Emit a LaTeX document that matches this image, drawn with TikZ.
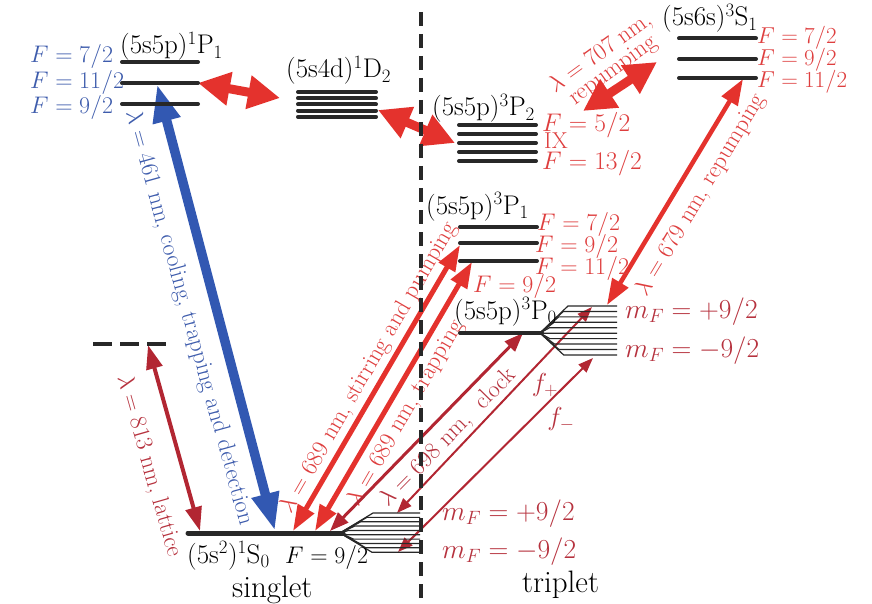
\RequirePackage{fix-cm}
\documentclass[tikz,border=0pt]{standalone}
\usetikzlibrary{arrows.meta}
\definecolor{lvcol}{RGB}{40,40,40}
\definecolor{bluA}{RGB}{50,88,178}
\definecolor{bluT}{RGB}{62,92,172}
\definecolor{redA}{RGB}{228,50,45}
\definecolor{redT}{RGB}{222,62,62}
\definecolor{redD}{RGB}{178,38,50}
\definecolor{redDT}{RGB}{182,50,62}
\begin{document}
\begin{tikzpicture}[x=1pt,y=-1pt,
  lvl/.style={draw=lvcol,line width=4pt,line cap=round},
  fanline/.style={draw=lvcol,line width=1.2pt},
  st/.style={inner sep=0pt,anchor=base west,font=\fontsize{27}{32}\selectfont,text=black},
  ml/.style={inner sep=0pt,anchor=base west,font=\fontsize{27.5}{32}\selectfont,text=redDT},
  fl/.style={inner sep=0pt,anchor=base west,font=\fontsize{24}{28}\selectfont},
  al/.style={inner sep=0pt,font=\fontsize{24}{28}\selectfont},
  bigred/.style={draw=redA,line width=9pt,{Triangle[length=32pt,width=32pt]}-{Triangle[length=32pt,width=32pt]}},
  bluearr/.style={draw=bluA,line width=9.5pt,{Triangle[length=38pt,width=26pt]}-{Triangle[length=38pt,width=26pt]}},
  midred/.style={draw=redA,line width=5pt,{Triangle[length=26pt,width=18pt]}-{Triangle[length=26pt,width=18pt]}},
  repred/.style={draw=redA,line width=4.5pt,{Triangle[length=26pt,width=18pt]}-{Triangle[length=26pt,width=18pt]}},
  clockarr/.style={draw=redD,line width=3pt,{Triangle[length=19pt,width=14pt]}-{Triangle[length=19pt,width=14pt]}},
  thinarr/.style={draw=redD,line width=2pt,{Triangle[length=15pt,width=11pt]}-{Triangle[length=15pt,width=11pt]}},
  latarr/.style={draw=redD,line width=4pt,{Triangle[length=24pt,width=16pt]}-{Triangle[length=24pt,width=16pt]}}
]
\useasboundingbox (0,0) rectangle (872,604);

% ---------- arrow end points ----------
\coordinate (bTop) at (157,84);
\coordinate (bBot) at (275,531);
\coordinate (r1a) at (198,83);
\coordinate (r1b) at (280,98);
\coordinate (r2a) at (378,110);
\coordinate (r2b) at (455,143);
\coordinate (r3a) at (583,111);
\coordinate (r3b) at (657,62);
\coordinate (r4a) at (743,79);
\coordinate (r4b) at (607,305);
\coordinate (s1a) at (293,531);
\coordinate (s1b) at (460,245);
\coordinate (s2a) at (315,531);
\coordinate (s2b) at (472,262);
\coordinate (ca) at (330,531);
\coordinate (cb) at (523,333);
\coordinate (fpa) at (397,513);
\coordinate (fpb) at (592,307);
\coordinate (fma) at (398,552);
\coordinate (fmb) at (593,358);
\coordinate (la) at (148,345);
\coordinate (lb) at (200,531);

% ---------- arrow labels ----------
\node[al,text=bluT,rotate=-74.5] (t461) at (189,318) {$\lambda=461$ nm, cooling, trapping and detection};
\node[al,text=redDT,rotate=-74] (t813) at (149,466) {$\lambda=813$ nm, lattice};
\node[al,text=redT,rotate=60] (t689a) at (369,368) {$\lambda=689$ nm, stirring and pumping};
\node[al,text=redT,rotate=60] (t689b) at (406,413) {$\lambda=689$ nm, trapping};
\node[al,text=redDT,rotate=45.5] (t698) at (448,438) {$\lambda=698$ nm,\ \ clock};
\node[al,text=redT,rotate=59] (t679) at (701,195) {$\lambda=679$ nm, repumping};
\node[al,text=redT,rotate=36,align=center] (t707) at (607,62) {$\lambda=707$ nm,\\[-7pt]repumping};
\node[al,text=redDT,font=\fontsize{26}{30}\selectfont] (tfp) at (545,385) {$f_+$};
\node[al,text=redDT,font=\fontsize{26}{30}\selectfont] (tfm) at (561,419) {$f_-$};

% ---------- arrows ----------
\draw[bluearr] (bTop) -- (bBot);
\draw[bigred] (r1a) -- (r1b);
\draw[bigred] (r2a) -- (r2b);
\draw[bigred] (r3a) -- (r3b);
\draw[repred] (r4a) -- (r4b);
\draw[midred] (s1a) -- (s1b);
\draw[midred] (s2a) -- (s2b);
\draw[clockarr] (ca) -- (cb);
\draw[thinarr] (fpa) -- (fpb);
\draw[thinarr] (fma) -- (fmb);
\draw[latarr] (la) -- (lb);

% ---------- levels ----------
% 1P1
\foreach \yy in {62,83,104} \draw[lvl] (122,\yy) -- (198,\yy);
% 1D2
\foreach \yy in {92,98.2,104.4,110.6,116.8} \draw[lvl] (298,\yy) -- (376,\yy);
% 3P2
\foreach \yy in {125,134,143,152,161} \draw[lvl] (459,\yy) -- (536,\yy);
% 3S1
\foreach \yy in {38.5,59,78} \draw[lvl] (679,\yy) -- (756,\yy);
% 3P1
\foreach \yy in {227,243,261} \draw[lvl] (460,\yy) -- (537,\yy);
% 3P0 with Zeeman fan
\draw[lvl] (460,333) -- (542,333);
\coordinate (p0c) at (540,333);
\foreach \i in {0,...,9}{
  \pgfmathsetmacro\yy{306+\i*5.44}
  \pgfmathsetmacro\bx{545+0.85*abs(\yy-333)}
  \draw[fanline] (p0c) -- (\bx,\yy) -- (617,\yy);
}
% 1S0 with Zeeman fan
\draw[draw=lvcol,line width=5pt,line cap=round] (188,533) -- (343,533);
\coordinate (s0c) at (340,533);
\foreach \i in {0,...,9}{
  \pgfmathsetmacro\yy{513+\i*4.35}
  \pgfmathsetmacro\bx{345+1.4*abs(\yy-533)}
  \draw[fanline] (s0c) -- (\bx,\yy) -- (420,\yy);
}
% lattice virtual level
\draw[draw=lvcol,line width=4pt,dash pattern=on 19pt off 8pt] (93,344) -- (168,344);
% singlet / triplet separator
\draw[draw=lvcol,line width=3.5pt,dash pattern=on 14pt off 8pt] (421,12) -- (421,604);

% ---------- state labels ----------
\node[st] (n1P1) at (120,54) {$\mathrm{(5s5p)^1P_1}$};
\node[st] (n1D2) at (286,78) {$\mathrm{(5s4d)^1D_2}$};
\node[st] (n3P2) at (432,116) {$\mathrm{(5s5p)^3P_2}$};
\node[st] (n3S1) at (662,26) {$\mathrm{(5s6s)^3S_1}$};
\node[st] (n3P1) at (426,214) {$\mathrm{(5s5p)^3P_1}$};
\node[st] (n3P0) at (454,319) {$\mathrm{(5s5p)^3P_0}$};
\node[st] (n1S0) at (187,563) {$\mathrm{(5s^2)^1S_0}$};
\node[fl,text=black] (nF0) at (285,563) {$F=9/2$};
\node[inner sep=0pt,anchor=base west,font=\fontsize{31}{36}\selectfont] (nsing) at (232,597) {singlet};
\node[inner sep=0pt,anchor=base west,font=\fontsize{31}{36}\selectfont] (ntrip) at (522,592) {triplet};

% ---------- F labels ----------
\node[fl,text=bluT] (fb1) at (30,63) {$F=7/2$};
\node[fl,text=bluT] (fb2) at (30,89) {$F=11/2$};
\node[fl,text=bluT] (fb3) at (30,114) {$F=9/2$};
\node[fl,text=redT,font=\fontsize{23}{27}\selectfont] (fs1) at (757,44) {$F=7/2$};
\node[fl,text=redT,font=\fontsize{23}{27}\selectfont] (fs2) at (757,66) {$F=9/2$};
\node[fl,text=redT,font=\fontsize{23}{27}\selectfont] (fs3) at (757,88) {$F=11/2$};
\node[fl,text=redT,font=\fontsize{25.5}{30}\selectfont] (fp21) at (542,132) {$F=5/2$};
\node[inner sep=0pt,anchor=base west,text=redT,font=\fontsize{23}{27}\selectfont] (fp2x) at (544,149) {IX};
\node[fl,text=redT,font=\fontsize{25.5}{30}\selectfont] (fp22) at (542,170) {$F=13/2$};
\node[fl,text=redT] (fp11) at (537,230) {$F=7/2$};
\node[fl,text=redT] (fp12) at (535,252) {$F=9/2$};
\node[fl,text=redT] (fp13) at (535,274) {$F=11/2$};
\node[fl,text=redT] (fp1x) at (473,292) {$F=9/2$};
\node[ml] (m1) at (625,318) {$m_F=+9/2$};
\node[ml] (m2) at (625,357) {$m_F=-9/2$};
\node[ml] (m3) at (442,520) {$m_F=+9/2$};
\node[ml] (m4) at (442,558) {$m_F=-9/2$};
\end{tikzpicture}
\end{document}
